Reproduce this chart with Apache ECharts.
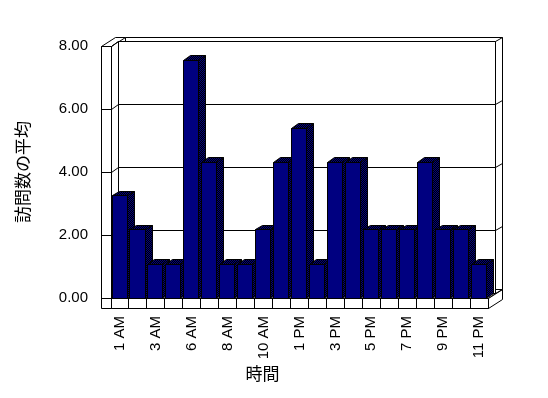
<!DOCTYPE html>
<html>
<head>
<meta charset="utf-8">
<script src="https://cdn.jsdelivr.net/npm/echarts@6/dist/echarts.min.js"></script>
<style>
  html, body { margin: 0; padding: 0; background: #fff; }
  #chart { width: 548px; height: 398px; }
</style>
</head>
<body>
<div id="chart"></div>
<script>
// categories (hours) and average visit counts
const hours = ['1 AM', '2 AM', '3 AM', '5 AM', '6 AM', '7 AM', '8 AM', '9 AM', '10 AM', '12 PM',
    '1 PM', '2 PM', '3 PM', '4 PM', '5 PM', '6 PM', '7 PM', '8 PM', '9 PM', '10 PM', '11 PM'];
const visits = [3.24, 2.16, 1.07, 1.07, 7.55, 4.31, 1.07, 1.07, 2.16, 4.31,
    5.39, 1.07, 4.31, 4.31, 2.16, 2.16, 2.16, 4.31, 2.16, 2.16, 1.07];
const yTicks = [0, 2, 4, 6, 8];

const DX = 7, DY = -4.5;   // depth offset of the 3d look
const WALL = 10;           // wall / floor thickness

function s(v) { return Math.floor(v) + 0.5; }
function pts(list) { return list.map(p => [s(p[0]), s(p[1])]); }

// dithered navy/black fill for bar sides and tops
function makePattern() {
    let c = document.createElement('canvas');
    c.width = 2; c.height = 2;
    let ctx = c.getContext('2d');
    ctx.fillStyle = '#000000';
    ctx.fillRect(0, 0, 2, 2);
    ctx.fillStyle = '#000080';
    ctx.fillRect(0, 0, 1, 1);
    ctx.fillRect(1, 1, 1, 1);
    return { image: c, repeat: 'repeat' };
}
const shade = makePattern();

function renderFrame(params, api) {
    let cs = params.coordSys;
    let x0 = cs.x, x1 = cs.x + cs.width, yt = cs.y, yb = cs.y + cs.height;
    let kids = [];
    function poly(p) {
        kids.push({ type: 'polygon', shape: { points: pts(p) },
            style: { fill: '#fff', stroke: '#000', lineWidth: 1 } });
    }
    function line(a, b) {
        kids.push({ type: 'line', shape: { x1: s(a[0]), y1: s(a[1]), x2: s(b[0]), y2: s(b[1]) },
            style: { stroke: '#000', lineWidth: 1 } });
    }
    // back wall, rear side
    poly([[x0 + 2 * DX, yt + 2 * DY], [x1 + 2 * DX, yt + 2 * DY], [x1 + 2 * DX, yb + 2 * DY], [x0 + 2 * DX, yb + 2 * DY]]);
    // left wall top
    poly([[x0 - WALL, yt], [x0, yt], [x0 + 2 * DX, yt + 2 * DY], [x0 - WALL + 2 * DX, yt + 2 * DY]]);
    // back wall face
    poly([[x0 + DX, yt + DY], [x1 + DX, yt + DY], [x1 + DX, yb + DY], [x0 + DX, yb + DY]]);
    // left wall inner face
    poly([[x0, yt], [x0 + DX, yt + DY], [x0 + DX, yb + DY], [x0, yb]]);
    // floor
    poly([[x0, yb], [x1, yb], [x1 + DX, yb + DY], [x0 + DX, yb + DY]]);
    poly([[x1, yb], [x1 + 2 * DX, yb + 2 * DY], [x1 + 2 * DX, yb + WALL + 2 * DY], [x1, yb + WALL]]);
    poly([[x0, yb], [x1, yb], [x1, yb + WALL], [x0, yb + WALL]]);
    // left wall front
    poly([[x0 - WALL, yt], [x0, yt], [x0, yb + WALL], [x0 - WALL, yb + WALL]]);

    yTicks.forEach(function (v) {
        let y = api.coord([0, v])[1];
        line([x0 - WALL, y], [x0, y]);
        line([x0, y], [x0 + DX, y + DY]);
        line([x0 + DX, y + DY], [x1 + DX, y + DY]);
        line([x1 + DX, y + DY], [x1 + 2 * DX, y + 2 * DY]);
    });
    let band = cs.width / hours.length;
    for (let i = 0; i <= hours.length; i++) {
        let x = x0 + i * band;
        line([x, yb], [x, yb + WALL]);
    }
    return { type: 'group', children: kids };
}

function renderBar(params, api) {
    let top = api.coord([api.value(0), api.value(1)]);
    let base = api.coord([api.value(0), 0]);
    let band = api.size([1, 0])[0];
    let l = top[0] - band / 2 + 1;
    let r = l + band * 0.84;
    let t = top[1], b = base[1];
    let st = { stroke: '#000', lineWidth: 1 };
    return {
        type: 'group',
        children: [
            { type: 'polygon', shape: { points: pts([[r, t], [r + DX, t + DY], [r + DX, b + DY], [r, b]]) },
              style: Object.assign({ fill: shade }, st) },
            { type: 'polygon', shape: { points: pts([[l, t], [l + DX, t + DY], [r + DX, t + DY], [r, t]]) },
              style: Object.assign({ fill: shade }, st) },
            { type: 'polygon', shape: { points: pts([[l, t], [r, t], [r, b], [l, b]]) },
              style: Object.assign({ fill: '#000080' }, st) }
        ]
    };
}

var myChart = echarts.init(document.getElementById('chart'), null, { renderer: 'canvas' });
var fontFam = "'Liberation Sans', 'Noto Sans CJK JP', sans-serif";
var option = {
    animation: false,
    backgroundColor: '#fff',
    grid: { left: 111, top: 46, width: 377, height: 252 },
    xAxis: {
        type: 'category',
        data: hours,
        axisLine: { show: false },
        axisTick: { show: false },
        axisLabel: { interval: 1, rotate: 90, margin: 18, color: '#000', fontSize: 15, fontFamily: fontFam },
        name: '時間',
        nameLocation: 'middle',
        nameGap: 68,
        nameTextStyle: { color: '#000', fontSize: 17, fontFamily: fontFam, padding: [0, 74, 0, 0] }
    },
    yAxis: {
        type: 'value',
        min: 0,
        max: 8,
        interval: 2,
        axisLine: { show: false },
        axisTick: { show: false },
        splitLine: { show: false },
        axisLabel: {
            margin: 23, color: '#000', fontSize: 15, fontFamily: fontFam,
            formatter: function (v) { return v.toFixed(2); }
        },
        name: '訪問数の平均',
        nameLocation: 'middle',
        nameGap: 78,
        nameTextStyle: { color: '#000', fontSize: 17, fontFamily: fontFam }
    },
    series: [
        {
            type: 'custom',
            renderItem: renderFrame,
            data: [[0, 0]],
            clip: false,
            silent: true,
            z: 1
        },
        {
            type: 'custom',
            renderItem: renderBar,
            data: visits.map((v, i) => [i, v]),
            clip: false,
            z: 2
        }
    ]
};
myChart.setOption(option);
</script>
</body>
</html>
